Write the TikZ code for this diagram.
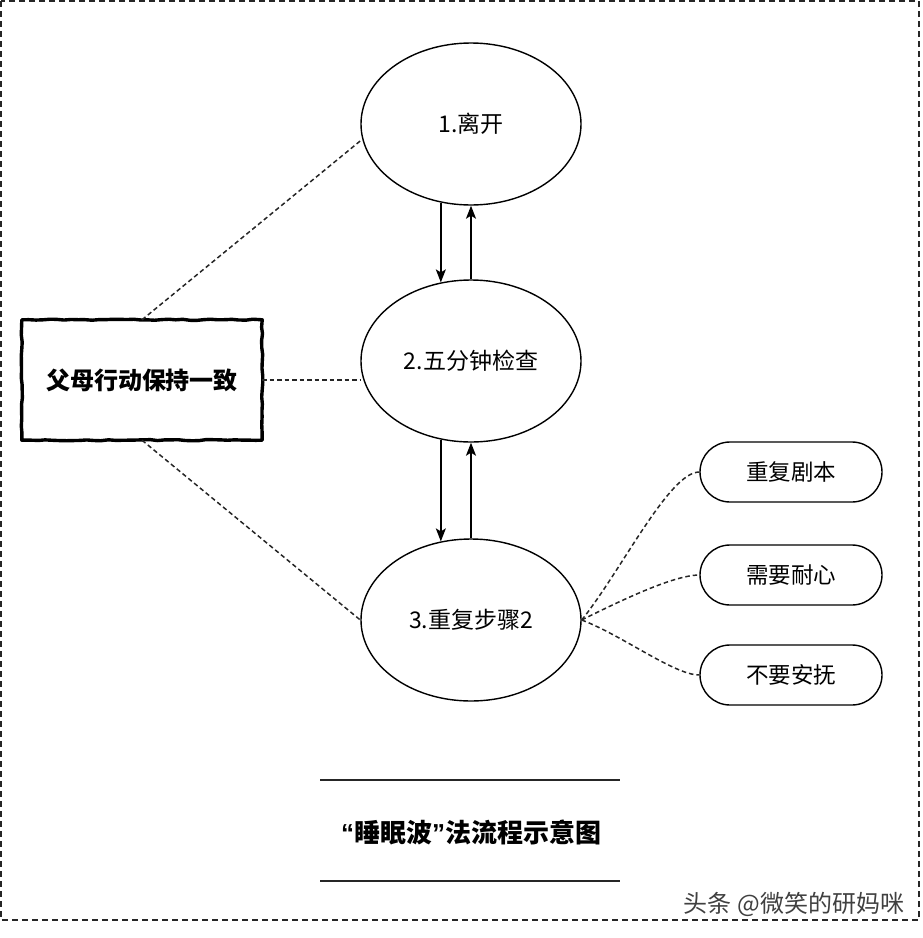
\documentclass[tikz,border=0pt]{standalone}
\usepackage{fontspec}
\setmainfont{Noto Sans CJK SC}
\newfontfamily\latinq{Liberation Sans}
\usetikzlibrary{shapes.geometric,arrows.meta,decorations.pathmorphing}
\begin{document}
\begin{tikzpicture}[x=1pt,y=-1pt,
  ell/.style={draw, ellipse, line width=1.4pt, minimum width=220pt, minimum height=162pt, inner sep=0pt, font=\fontsize{23}{27}\selectfont},
  pill/.style={draw, rounded corners=30pt, line width=1.4pt, minimum width=182pt, minimum height=60pt, inner sep=0pt, font=\fontsize{22.5}{26}\selectfont},
  arr/.style={line width=1.5pt, -{Stealth[length=13pt,width=10pt,inset=3pt]}},
  dsh/.style={dash pattern=on 4.5pt off 3pt, line width=1.5pt, draw=black!85},
  sketch/.style={line width=3.4pt, line join=round, decorate, decoration={random steps, segment length=7pt, amplitude=0.6pt}},
  frame/.style={dash pattern=on 6pt off 4pt, line width=2pt, draw=black!85}]
\useasboundingbox (0,0) rectangle (922,938);
\pgfmathsetseed{7}
\draw[frame] (1,1) rectangle (919,920);

\node[ell] (e1) at (471,124) {1.离开};
\node[ell] (e2) at (471,361) {2.五分钟检查};
\node[ell] (e3) at (471,620) {3.重复步骤2};

\node[minimum width=240pt, minimum height=120pt, inner sep=0pt, font=\fontsize{24}{28}\selectfont\bfseries] (box) at (142,380) {父母行动保持一致};
\draw[sketch] (box.north west) -- (box.north east) -- (box.south east) -- (box.south west) -- cycle;

\node[pill] (r1) at (791,472) {重复剧本};
\node[pill] (r2) at (791,575) {需要耐心};
\node[pill] (r3) at (791,675) {不要安抚};

\draw[arr] (e1.-111) -- (e2.111);
\draw[arr] (e2.north) -- (e1.south);
\draw[arr] (e2.-111) -- (e3.111);
\draw[arr] (e3.north) -- (e2.south);

\draw[dsh] (box.north) -- (e1.188);
\draw[dsh] (box.east) -- (box.east -| e2.west);
\draw[dsh] (box.south) -- (e3.west);

\draw[dsh] (e3.east) .. controls +(40,-50) and +(-30,0) .. (r1.west);
\draw[dsh] (e3.east) .. controls +(40,-20) and +(-25,0) .. (r2.west);
\draw[dsh] (e3.east) .. controls +(40,15) and +(-25,0) .. (r3.west);

\node[font=\fontsize{26}{30}\selectfont\bfseries] (title) at (471,832) {{\latinq “}睡眠波{\latinq ”}法流程示意图};
\draw[line width=2pt, draw=black!85] (320,780) coordinate (l1a) -- (620,780) coordinate (l1b);
\draw[line width=2pt, draw=black!85] (320,881) coordinate (l2a) -- (620,881) coordinate (l2b);

\node[font=\fontsize{24}{28}\selectfont, text=black!75] (wm) at (794,904) {头条 @微笑的研妈咪};
\end{tikzpicture}
\end{document}
